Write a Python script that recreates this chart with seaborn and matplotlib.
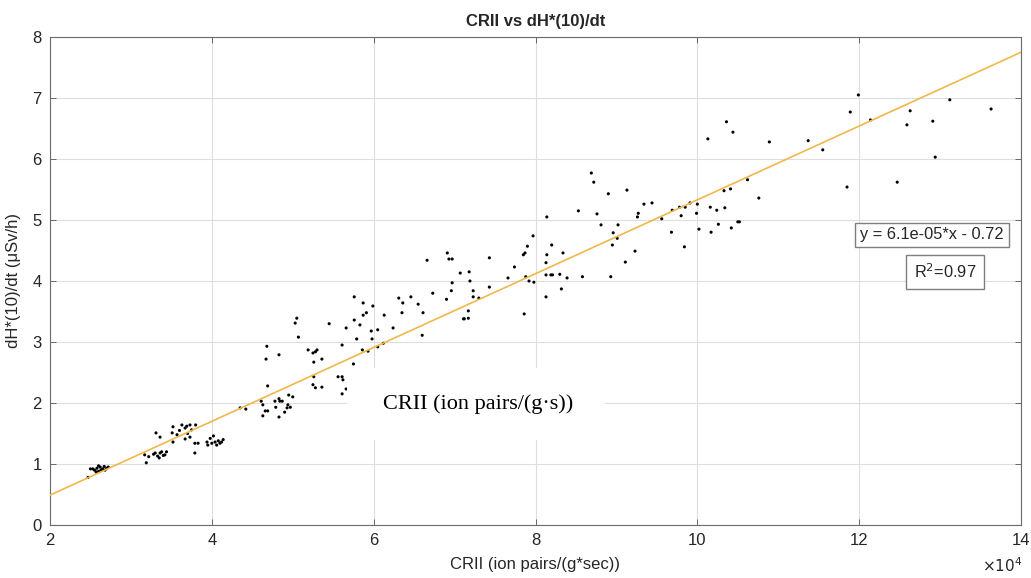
"""
plot.py
CRII vs dH*(10)/dt scatter with linear fit (MATLAB-style figure).
"""

import matplotlib
matplotlib.use("Agg")
import matplotlib.pyplot as plt
from matplotlib.patches import Rectangle
import seaborn as sns
import pandas as pd
import numpy as np

# CRII in units of 1e4 ion pairs/(g*sec)
crii_e4 = [
    2.47, 2.50, 2.53, 2.55, 2.57, 2.58, 2.60, 2.60, 2.62, 2.63, 2.65, 2.67, 2.68, 2.70, 2.72,
    3.17, 3.19, 3.22, 3.28, 3.30, 3.33, 3.35, 3.36, 3.38, 3.40, 3.42, 3.44,
    3.31, 3.36, 3.51, 3.52, 3.63, 3.67, 3.69, 3.73, 3.80, 3.75, 3.57, 3.52, 3.67, 3.73,
    3.79, 3.79, 3.83, 3.60, 3.70,
    3.94, 4.02, 4.04, 4.08, 4.12, 4.06, 3.95, 4.00, 4.10, 4.14, 3.98,
    4.35, 4.42, 4.61, 4.63, 4.66, 4.63, 4.69, 4.69, 4.68, 4.67, 4.78, 4.79, 4.83, 4.84,
    4.87, 4.83, 4.90, 4.93, 4.94, 4.95, 4.97, 5.00, 4.83,
    5.03, 5.05, 5.07, 5.19, 5.25, 5.28, 5.30, 5.26, 5.36, 5.26, 5.25, 5.28, 5.36, 5.45,
    5.56, 5.61, 5.62, 5.66, 5.61, 5.61, 5.66, 5.75, 5.76, 5.87, 5.76, 5.83, 5.87, 5.91,
    5.79, 5.86, 5.93, 5.97, 5.98, 5.99, 6.05, 6.05, 6.13, 6.12, 6.24, 6.31, 6.36, 6.35,
    6.46, 6.55, 6.61, 6.60, 6.73,
    6.66, 6.91, 6.93, 6.97, 6.90, 6.96, 6.97, 7.07, 7.18, 7.19, 7.23, 7.23, 7.17, 7.11,
    7.12, 7.17, 7.30, 7.43, 7.43, 7.66, 7.74, 7.85, 7.87, 7.90, 7.97, 7.88, 7.92, 7.98,
    7.86, 8.13, 8.14, 8.20, 8.13, 8.19, 8.21, 8.30, 8.34, 8.39, 8.32, 8.13, 8.58, 8.93, 8.14,
    8.53, 8.69, 8.72, 8.76, 8.81, 8.90, 8.95, 8.96, 9.01, 9.02, 9.11, 9.13, 9.23, 9.26,
    9.27, 9.34, 9.44, 9.56, 9.68, 9.69, 9.78, 9.80, 9.84, 9.85, 9.91, 9.99, 10.00, 10.02,
    10.13, 10.16, 10.17, 10.24, 10.26, 10.33, 10.34, 10.41, 10.42, 10.44, 10.50, 10.52,
    10.62, 10.76, 10.89, 10.36,
    11.99, 11.89, 12.14, 12.63, 12.59, 12.91, 13.12, 13.63, 12.94, 12.47, 11.85, 11.37, 11.55,
]

# dH*(10)/dt in uSv/h
dose_rate = [
    0.78, 0.92, 0.92, 0.90, 0.87, 0.93, 0.88, 0.97, 0.95, 0.90, 0.92, 0.96, 0.90, 0.93, 0.95,
    1.15, 1.02, 1.12, 1.16, 1.18, 1.13, 1.10, 1.18, 1.20, 1.14, 1.15, 1.20,
    1.51, 1.44, 1.51, 1.61, 1.64, 1.59, 1.62, 1.64, 1.64, 1.56, 1.48, 1.36, 1.41, 1.44,
    1.34, 1.18, 1.34, 1.55, 1.50,
    1.36, 1.46, 1.36, 1.38, 1.36, 1.31, 1.31, 1.34, 1.34, 1.40, 1.42,
    1.92, 1.90, 2.03, 1.97, 1.87, 1.79, 1.87, 2.28, 2.93, 2.72, 2.03, 1.93, 2.07, 2.03,
    2.03, 2.79, 1.85, 1.92, 1.97, 2.13, 1.93, 2.10, 1.77,
    3.31, 3.39, 3.08, 2.87, 2.82, 2.84, 2.87, 2.67, 2.72, 2.43, 2.30, 2.25, 2.26, 3.30,
    2.43, 2.43, 2.38, 2.23, 2.15, 2.95, 3.23, 2.64, 3.74, 3.64, 3.36, 3.28, 3.44, 3.48,
    3.05, 2.87, 2.85, 3.18, 3.05, 3.59, 3.20, 2.92, 3.44, 2.98, 3.23, 3.72, 3.64, 3.48,
    3.74, 3.62, 3.48, 3.11, 3.80,
    4.34, 4.46, 4.36, 4.36, 3.70, 3.84, 3.97, 4.13, 4.15, 4.00, 3.84, 3.74, 3.51, 3.38,
    3.38, 3.39, 3.72, 4.38, 3.90, 4.05, 4.23, 4.43, 4.46, 4.57, 4.74, 4.07, 4.00, 3.98,
    3.46, 4.30, 4.43, 4.59, 4.10, 4.10, 4.10, 4.11, 4.46, 4.05, 3.87, 3.74, 4.07, 4.07, 5.05,
    5.15, 5.77, 5.62, 5.10, 4.92, 5.43, 4.59, 4.79, 4.70, 4.92, 4.31, 5.49, 4.49, 5.05,
    5.11, 5.26, 5.28, 5.02, 4.80, 5.16, 5.21, 5.07, 4.56, 5.21, 5.28, 5.11, 5.26, 4.85,
    6.33, 5.21, 4.80, 5.16, 4.93, 5.48, 5.20, 5.51, 4.87, 6.44, 4.97, 4.97,
    5.66, 5.36, 6.28, 6.61,
    7.05, 6.77, 6.64, 6.79, 6.56, 6.62, 6.97, 6.82, 6.03, 5.62, 5.54, 6.30, 6.15,
]

# linear fit: y = slope * x + intercept (x in raw ion pairs/(g*sec))
fit_slope = 6.05e-05
fit_intercept = -0.72
fit_label = "y = 6.1e-05*x - 0.72"
r2_label = "R$^2$=0.97"

x_ticks = [2, 4, 6, 8, 10, 12, 14]
y_ticks = [0, 1, 2, 3, 4, 5, 6, 7, 8]

df = pd.DataFrame({"crii": crii_e4, "dose": dose_rate})

sns.set_style("whitegrid")
plt.rcParams["font.family"] = ["Liberation Sans", "DejaVu Sans"]

W, H = 1031, 578
fig = plt.figure(figsize=(W / 100, H / 100), dpi=100)
ax = fig.add_axes([50 / W, 53 / H, 971 / W, 488 / H])

sns.scatterplot(data=df, x="crii", y="dose", ax=ax, color="black", s=5,
                edgecolor="none", zorder=3)

xl = np.array([x_ticks[0], x_ticks[-1]], dtype=float)
ax.plot(xl, fit_slope * xl * 1e4 + fit_intercept, color="#F0B84A", lw=1.2, zorder=4)

ax.set_xlim(x_ticks[0], x_ticks[-1])
ax.set_ylim(y_ticks[0], y_ticks[-1])
ax.set_xticks(x_ticks)
ax.set_yticks(y_ticks)
ax.grid(True, color="#dedede", lw=0.8)
ax.tick_params(direction="in", length=4, width=0.6, colors="#555555",
               labelcolor="#262626", labelsize=12, top=True, right=True,
               bottom=True, left=True, pad=6)
for sp in ax.spines.values():
    sp.set_color("#6a6a6a")
    sp.set_linewidth(0.8)

ax.set_xlabel("CRII (ion pairs/(g*sec))", fontsize=12, color="#262626", labelpad=6)
ax.set_ylabel("dH*(10)/dt (μSv/h)", fontsize=12, color="#262626", labelpad=8)
ax.set_title("CRII vs dH*(10)/dt", fontsize=12, fontweight="bold", pad=8)

fig.text(1002 / W, 1 - 566 / H, r"$\times10^4$", fontsize=11, color="#262626",
         ha="center", va="center")

# equation and R^2 boxes
box = dict(boxstyle="square,pad=0.3", facecolor="white", edgecolor="#7f7f7f", lw=1)
fig.text(932 / W, 1 - 235 / H, fit_label, fontsize=11.8, ha="center", va="center",
         color="#262626", bbox=box, zorder=6)
fig.text(945 / W, 1 - 272 / H, r2_label, fontsize=11.8, ha="center", va="center",
         color="#262626", bbox=dict(boxstyle="square,pad=0.45", facecolor="white",
                                    edgecolor="#7f7f7f", lw=1), zorder=6)

# overlaid serif caption on white patch
fig.patches.append(Rectangle((347 / W, 1 - 440 / H), 258 / W, 72 / H,
                             transform=fig.transFigure, facecolor="white",
                             edgecolor="none", zorder=5))
fig.text(478 / W, 1 - 404 / H, "CRII (ion pairs/(g·s))", fontsize=16,
         family=["Liberation Serif", "DejaVu Serif"], ha="center", va="center",
         color="black", zorder=6)

fig.savefig("out.png", dpi=100, facecolor="white")
